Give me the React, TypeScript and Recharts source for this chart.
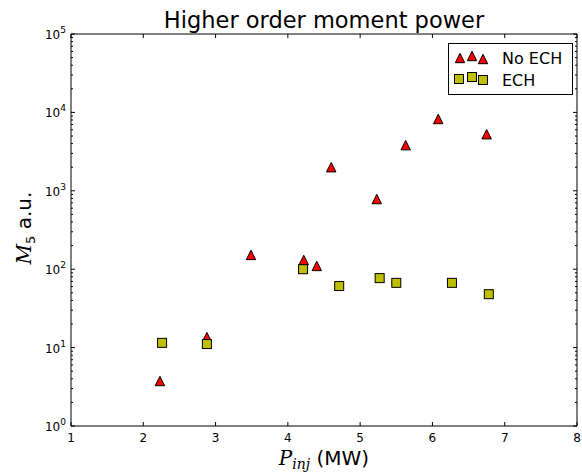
import React from "react";
import { ScatterChart, Scatter, XAxis, YAxis, ReferenceArea, Legend, Label } from "recharts";

// values (log y axis)
const noEchX = [2.23, 2.88, 3.49, 4.22, 4.4, 4.6, 5.23, 5.63, 6.08, 6.75];
const noEchY = [3.75, 13.6, 152, 131, 110, 2000, 785, 3820, 8240, 5270];
const echX = [2.26, 2.88, 4.21, 4.71, 5.27, 5.5, 6.27, 6.78];
const echY = [11.5, 11.1, 100, 61, 77, 67, 67, 48];

const xTicks = [1, 2, 3, 4, 5, 6, 7, 8];
const yMajor = [1, 10, 100, 1000, 10000, 100000];
const minorSteps = [2, 3, 4, 5, 6, 7, 8, 9];

const yTicks: number[] = [];
yMajor.forEach((m, i) => {
  yTicks.push(m);
  if (i < yMajor.length - 1) minorSteps.forEach((s) => yTicks.push(m * s));
});

const noEch = noEchX.map((x, i) => ({ x, y: noEchY[i] }));
const ech = echX.map((x, i) => ({ x, y: echY[i] }));

const W = 582;
const H = 473;
const PLOT = { left: 71, right: 577, top: 34, bottom: 426 };
const FONT = "DejaVu Sans";
const RED = "#ff0000";
const OLIVE = "#bfbf00";

const Tri = (props: any) => {
  const { cx, cy } = props;
  const h = 4.7;
  return (
    <polygon
      points={`${cx},${cy - h} ${cx - h},${cy + h} ${cx + h},${cy + h}`}
      fill={RED}
      stroke="#000"
      strokeWidth={1}
    />
  );
};

const Sq = (props: any) => {
  const { cx, cy } = props;
  return <rect x={cx - 4.5} y={cy - 4.5} width={9} height={9} fill={OLIVE} stroke="#000" strokeWidth={1} />;
};

const XTick = (props: any) => {
  const { x, payload } = props;
  return (
    <g>
      <line x1={x} x2={x} y1={PLOT.bottom} y2={PLOT.bottom - 4} stroke="#000" />
      <line x1={x} x2={x} y1={PLOT.top} y2={PLOT.top + 4} stroke="#000" />
      <text x={x} y={PLOT.bottom + 16} textAnchor="middle" fontSize={12} fontFamily={FONT} fill="#000">
        {payload.value}
      </text>
    </g>
  );
};

const YTick = (props: any) => {
  const { y, payload } = props;
  const v = payload.value;
  const e = Math.round(Math.log10(v));
  const major = Math.abs(Math.pow(10, e) - v) < 1e-6 * v;
  const len = major ? 4 : 2;
  return (
    <g>
      <line x1={PLOT.left} x2={PLOT.left + len} y1={y} y2={y} stroke="#000" />
      <line x1={PLOT.right} x2={PLOT.right - len} y1={y} y2={y} stroke="#000" />
      {major && (
        <text x={PLOT.left - 5} y={y + 5} textAnchor="end" fontSize={12} fontFamily={FONT} fill="#000">
          10
          <tspan dy={-6} fontSize={9}>
            {e}
          </tspan>
        </text>
      )}
    </g>
  );
};

const LegendBox = () => (
  <svg width={125} height={52} style={{ display: "block" }}>
    <rect x={0.5} y={0.5} width={124} height={51} fill="#fff" stroke="#000" />
    <Tri cx={12} cy={15} />
    <Tri cx={24} cy={13} />
    <Tri cx={35} cy={16} />
    <text x={54} y={21} fontSize={16} fontFamily={FONT} fill="#000">
      No ECH
    </text>
    <Sq cx={11} cy={36} />
    <Sq cx={24} cy={34} />
    <Sq cx={35} cy={37} />
    <text x={54} y={43} fontSize={16} fontFamily={FONT} fill="#000">
      ECH
    </text>
  </svg>
);

const App = () => {
  return (
    <div style={{ position: "absolute", left: 0, top: 0, background: "#fff" }}>
      <ScatterChart
        width={W}
        height={H}
        margin={{ top: PLOT.top, right: W - PLOT.right, bottom: 0, left: 0 }}
      >
        <XAxis
          type="number"
          dataKey="x"
          domain={[1, 8]}
          ticks={xTicks}
          interval={0}
          allowDataOverflow
          axisLine={false}
          tickLine={false}
          tick={<XTick />}
          height={H - PLOT.bottom}
        >
          <Label
            content={() => (
              <text x={(PLOT.left + PLOT.right) / 2} y={465} textAnchor="middle" fontSize={20} fontFamily={FONT} fill="#000">
                <tspan fontFamily="DejaVu Serif" fontStyle="italic">P</tspan>
                <tspan fontFamily="DejaVu Serif" fontStyle="italic" fontSize={14} dy={4}>
                  inj
                </tspan>
                <tspan dy={-4}> (MW)</tspan>
              </text>
            )}
          />
        </XAxis>
        <YAxis
          type="number"
          dataKey="y"
          scale="log"
          domain={[1, 100000]}
          ticks={yTicks}
          interval={0}
          allowDataOverflow
          axisLine={false}
          tickLine={false}
          tick={<YTick />}
          width={PLOT.left}
        >
          <Label
            content={() => (
              <g>
                <text
                  transform="translate(31,228) rotate(-90)"
                  textAnchor="middle"
                  fontSize={20}
                  fontFamily={FONT}
                  fill="#000"
                >
                  <tspan fontFamily="DejaVu Serif" fontStyle="italic">M</tspan>
                  <tspan fontSize={13} dy={4}>5</tspan>
                  <tspan dy={-4}> a.u.</tspan>
                </text>
                <text
                  x={(PLOT.left + PLOT.right) / 2}
                  y={28}
                  textAnchor="middle"
                  fontSize={22.5}
                  fontFamily={FONT}
                  fill="#000"
                >
                  Higher order moment power
                </text>
              </g>
            )}
          />
        </YAxis>
        <ReferenceArea x1={1} x2={8} y1={1} y2={100000} fill="none" stroke="#000" strokeWidth={1} ifOverflow="visible" />
        <Scatter name="No ECH" data={noEch} shape={Tri} isAnimationActive={false} />
        <Scatter name="ECH" data={ech} shape={Sq} isAnimationActive={false} />
        <Legend
          layout="horizontal"
          verticalAlign="middle"
          align="center"
          content={() => <LegendBox />}
          wrapperStyle={{ position: "absolute", left: 448, top: 43, width: 125, height: 52 }}
        />
      </ScatterChart>
    </div>
  );
};

export default App;
